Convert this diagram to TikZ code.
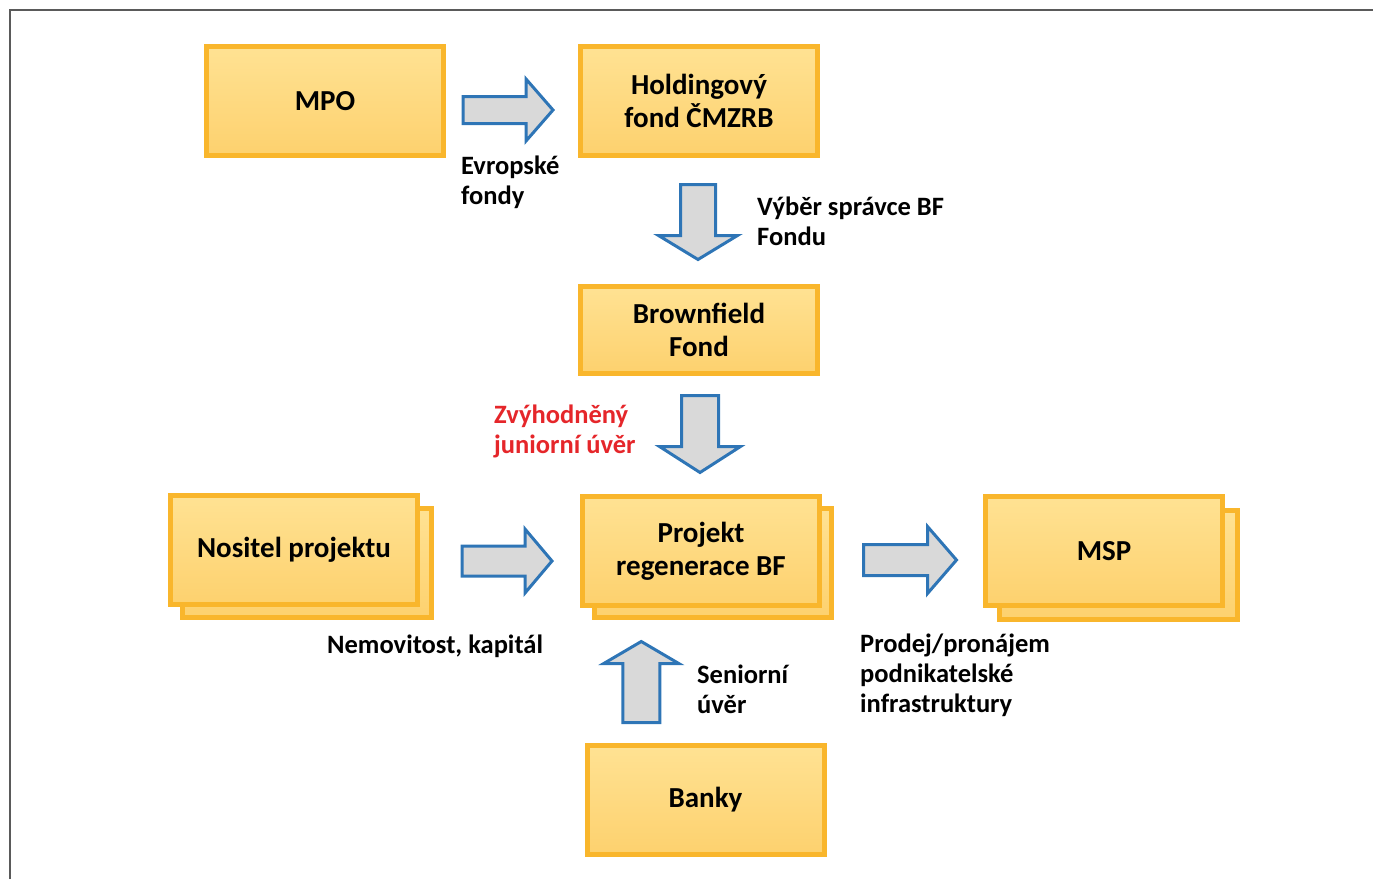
\documentclass[tikz,border=0pt]{standalone}
\usepackage{fontspec}
\setmainfont{Carlito}
\usetikzlibrary{positioning,calc}

\definecolor{boxline}{HTML}{F9B62C}
\definecolor{boxtop}{HTML}{FFE293}
\definecolor{boxbottom}{HTML}{FDD16E}
\definecolor{arrowline}{HTML}{2E75B6}
\definecolor{arrowfill}{HTML}{D9D9D9}
\definecolor{redtext}{HTML}{E5262A}
\definecolor{frameline}{HTML}{5A5A5A}

\begin{document}
\begin{tikzpicture}[x=1pt,y=-1pt]
  \tikzset{BoxStyle/.style = {
    shape          = rectangle,
    draw           = boxline,
    top color      = boxtop,
    bottom color   = boxbottom,
    line width     = 5pt,
    text           = black,
    font           = \fontsize{29}{33}\selectfont\bfseries,
    align          = center,
    minimum width  = 237pt,
    minimum height = 109pt,
    inner sep      = 0pt
    }
  }
  \tikzset{LabelStyle/.style = {
    font      = \fontsize{26.5}{30}\selectfont\bfseries,
    align     = left,
    anchor    = west,
    inner sep = 0pt
    }
  }
  % block arrow: length, half body, half head, head length
  \tikzset{pics/FatArrow/.style n args = {4}{code = {
    \draw[line width=3pt, draw=arrowline, fill=arrowfill, line join=miter]
      (-#1/2,-#2) -- (#1/2-#4,-#2) -- (#1/2-#4,-#3) -- (#1/2,0)
      -- (#1/2-#4,#3) -- (#1/2-#4,#2) -- (-#1/2,#2) -- cycle;
    }}
  }

  \useasboundingbox (0,0) rectangle (1373,879);
  \draw[frameline, line width=1.5pt] (10,879) -- (10,10) -- (1373,10);

  \node[BoxStyle](mpo) at (325,101) {MPO};
  \node[BoxStyle](hold) at (699,101) {Holdingový\\fond ČMZRB};
  \node[BoxStyle, minimum height=87pt](brown) at (699,330) {Brownfield\\Fond};
  % stacked boxes, back copy first
  \node[BoxStyle, minimum width=249pt](nositB) at (307,563) {};
  \node[BoxStyle, minimum width=247pt](nosit) at (294,550) {Nositel projektu};
  \node[BoxStyle](projB) at (713,563) {};
  \node[BoxStyle](proj) at (701,551) {Projekt\\regenerace BF};
  \node[BoxStyle, minimum width=238pt](mspB) at (1118,565) {};
  \node[BoxStyle](msp) at (1104,551) {MSP};
  \node[BoxStyle](banky) at (705.5,800) {Banky};

  \pic at ($(mpo.east)!0.5!(hold.west)+(-4,9)$) {FatArrow={90}{13.5}{31}{27}};
  \pic[rotate=-90] at ($(hold.south)!0.5!(brown.north)+(-1,1)$) {FatArrow={75}{17.5}{39.5}{24}};
  \pic[rotate=-90] at ($(brown.south)!0.5!(proj.north)+(0,-1)$) {FatArrow={77}{18.5}{40.5}{26}};
  \pic at ($(nositB.east)!0.5!(proj.west)+(0,4)$) {FatArrow={90}{15}{32}{27}};
  \pic at ($(projB.east)!0.5!(msp.west)+(1.5,3)$) {FatArrow={93}{15.5}{33.5}{29}};
  \pic[rotate=90] at ($(banky.north)!0.5!(projB.south)+(-68,0.5)$) {FatArrow={81}{18.5}{37.5}{22}};

  \node[LabelStyle](evr) at (461,182) {Evropské\\fondy};
  \node[LabelStyle](vyb) at (757,221) {Výběr správce BF\\Fondu};
  \node[LabelStyle, text=redtext](zvy) at (494,431) {Zvýhodněný\\juniorní úvěr};
  \node[LabelStyle](nem) at (327,646) {Nemovitost, kapitál};
  \node[LabelStyle](sen) at (697,689) {Seniorní\\úvěr};
  \node[LabelStyle](pro) at (860,675) {Prodej/pronájem\\podnikatelské\\infrastruktury};
\end{tikzpicture}
\end{document}
